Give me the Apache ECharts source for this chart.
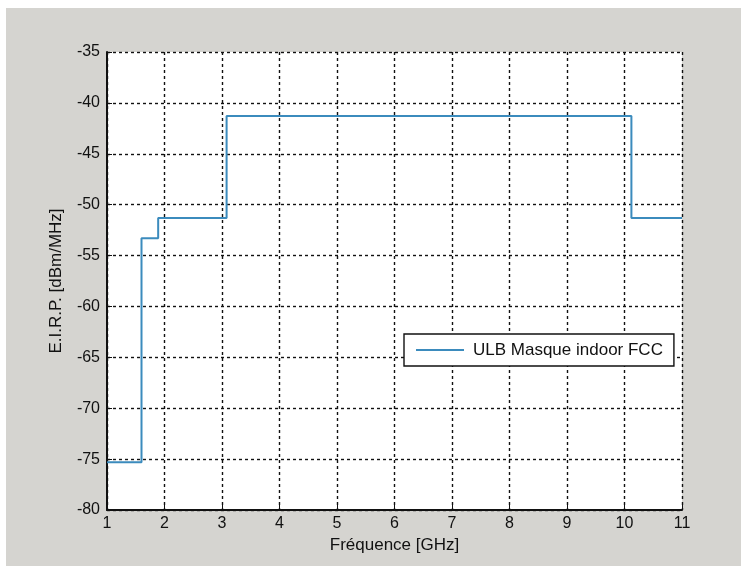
<!DOCTYPE html>
<html>
<head>
<meta charset="utf-8">
<script src="https://cdn.jsdelivr.net/npm/echarts@6/dist/echarts.min.js"></script>
<style>
html,body{margin:0;padding:0;background:#fff;}
#main{width:741px;height:566px;}
</style>
</head>
<body>
<div id="main"></div>
<script>
// Breakpoint frequencies (GHz) and mask levels (dBm/MHz)
const freqEdges = [1, 1.6, 1.89, 3.08, 10.12, 11];
const maskLevels = [-75.3, -53.3, -51.3, -41.3, -51.3, -51.3];
const seriesName = 'ULB Masque indoor FCC';
const xTicks = [1, 2, 3, 4, 5, 6, 7, 8, 9, 10, 11];
const yTicks = [-80, -75, -70, -65, -60, -55, -50, -45, -40, -35];

const data = freqEdges.map((f, i) => [f, maskLevels[i]]);
const FONT = '"Liberation Sans", Arial, sans-serif';

const chart = echarts.init(document.getElementById('main'));
chart.setOption({
  backgroundColor: '#ffffff',
  animation: false,
  graphic: [{
    type: 'rect', z: -10, silent: true,
    shape: {x: 6, y: 8, width: 741, height: 566},
    style: {fill: '#d5d4d0'}
  }],
  grid: {
    left: 107, top: 52, width: 575, height: 458,
    show: true, backgroundColor: '#ffffff', borderWidth: 0
  },
  xAxis: {
    type: 'value', min: xTicks[0], max: xTicks[xTicks.length - 1], interval: 1,
    name: 'Fréquence [GHz]', nameLocation: 'middle', nameGap: 27,
    nameTextStyle: {fontFamily: FONT, fontSize: 17, color: '#111'},
    axisLine: {show: true, onZero: false, lineStyle: {color: '#111', width: 2}},
    axisTick: {show: true, inside: true, length: 5, lineStyle: {color: '#111'}},
    axisLabel: {fontFamily: FONT, fontSize: 16, color: '#111', margin: 6},
    splitLine: {show: true, lineStyle: {color: '#111', type: [3, 3], width: 1.4}}
  },
  yAxis: {
    type: 'value', min: yTicks[0], max: yTicks[yTicks.length - 1], interval: 5,
    name: 'E.I.R.P. [dBm/MHz]', nameLocation: 'middle', nameGap: 42,
    nameTextStyle: {fontFamily: FONT, fontSize: 17, color: '#111'},
    axisLine: {show: true, onZero: false, lineStyle: {color: '#111', width: 2}},
    axisTick: {show: true, inside: true, length: 5, lineStyle: {color: '#111'}},
    axisLabel: {fontFamily: FONT, fontSize: 16, color: '#111', margin: 7},
    splitLine: {show: true, lineStyle: {color: '#111', type: [3, 3], width: 1.4}}
  },
  legend: {
    left: 404, top: 334,
    padding: [7, 11, 7, 12],
    icon: 'rect',
    itemWidth: 48, itemHeight: 2,
    backgroundColor: '#ffffff',
    borderColor: '#111', borderWidth: 1.4, borderRadius: 0,
    textStyle: {fontFamily: FONT, fontSize: 17, color: '#111', padding: [0, 0, 0, 4], lineHeight: 18},
    data: [seriesName]
  },
  series: [{
    name: seriesName,
    type: 'line',
    step: 'end',
    symbol: 'none',
    data: data,
    lineStyle: {color: '#3b8bbd', width: 2},
    itemStyle: {color: '#3b8bbd'}
  }]
});
</script>
</body>
</html>
